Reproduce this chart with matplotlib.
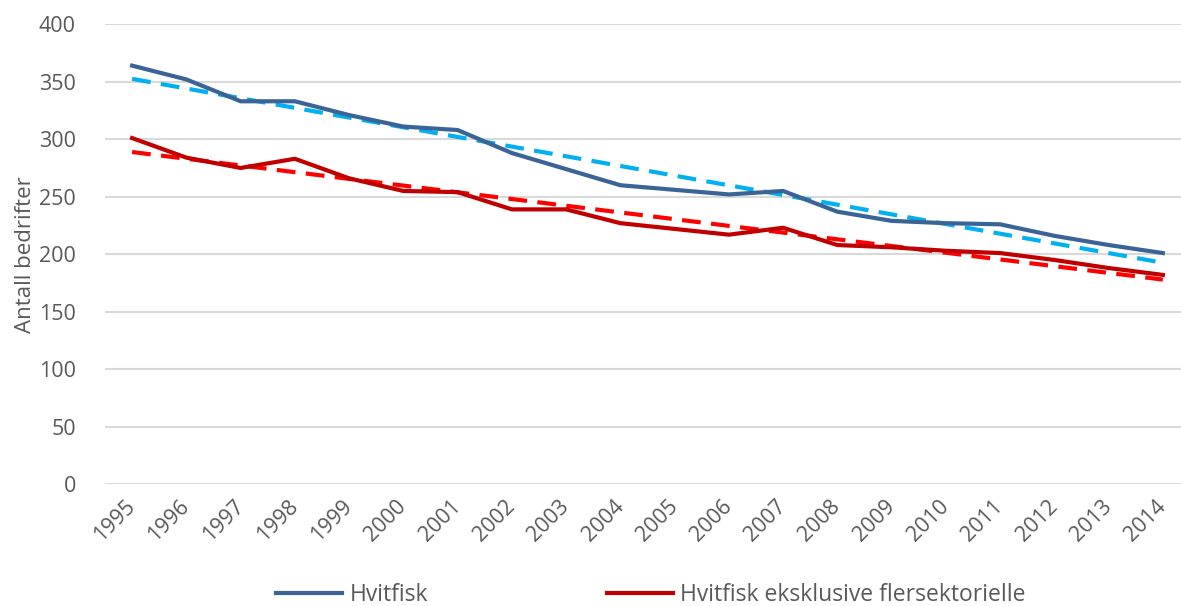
import numpy as np
import matplotlib
matplotlib.use('Agg')
import matplotlib.pyplot as plt

years = list(range(1995, 2015))
hvitfisk = [364, 352, 333, 333, 321, 311, 308, 288, 274, 260,
            256, 252, 255, 237, 229, 227, 226, 216, 208, 201]
hvitfisk_ekskl = [301, 284, 275, 283, 266, 255, 254, 239, 239, 227,
                  222, 217, 223, 208, 206, 203, 201, 195, 188, 182]

plt.rcParams['font.family'] = ['Open Sans', 'DejaVu Sans']
grey = '#595959'

fig = plt.figure(figsize=(11.81, 6.06), dpi=100)
ax = fig.add_axes([0.0889, 0.201, 0.9187, 0.759])

x = np.arange(len(years))

# linear trend lines, as in the Excel original
for vals, col in [(hvitfisk, '#00B0F0'), (hvitfisk_ekskl, '#FF0000')]:
    k, m = np.polyfit(x, vals, 1)
    ax.plot(x, k * x + m, color=col, lw=3, dashes=(4.5, 2.5), zorder=2)

ax.plot(x, hvitfisk, color='#3B6496', lw=3, label='Hvitfisk', zorder=3)
ax.plot(x, hvitfisk_ekskl, color='#C00000', lw=3,
        label='Hvitfisk eksklusive flersektorielle', zorder=3)

ax.set_xlim(-0.5, len(years) - 0.5)
ax.set_ylim(0, 400)
ax.set_yticks(range(0, 401, 50))
ax.set_xticks(x)
ax.set_xticklabels(years, rotation=45, ha='right', va='center',
                   rotation_mode='anchor')
ax.tick_params(axis='both', length=0, labelsize=15.5, colors=grey)
ax.tick_params(axis='x', pad=14)
ax.tick_params(axis='y', pad=21)
ax.grid(axis='y', color='#D9D9D9', lw=1.5)
ax.set_axisbelow(True)
for s in ax.spines.values():
    s.set_visible(False)

ax.set_ylabel('Antall bedrifter', fontsize=16, color=grey, labelpad=2)

ax.legend(loc='upper center', bbox_to_anchor=(0.503, -0.17), ncol=2,
          frameon=False, fontsize=16.5, handlelength=2.9, handletextpad=0.3,
          columnspacing=7.8, labelcolor=grey)

fig.savefig('out.png', dpi=100)
